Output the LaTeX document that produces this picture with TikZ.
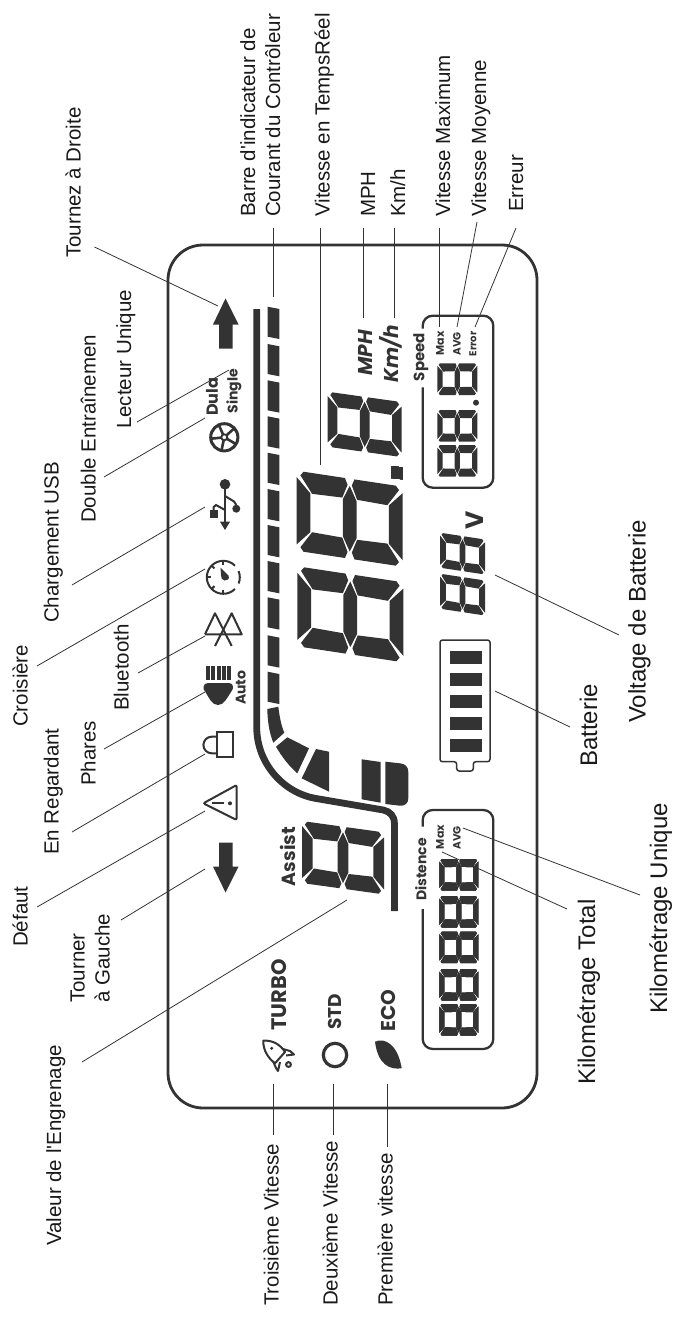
\documentclass[tikz,border=0pt]{standalone}
\usepackage{fontspec}
\usepackage{xcolor}
\usepackage{tikz}
\newfontfamily\lblfont{Liberation Sans}
\newfontfamily\lcdfont{Poppins}
\definecolor{lcdgray}{HTML}{333333}

% one seven-segment digit: x, y, half width, height, skew
\newcommand{\lcddigit}[5]{%
    \begin{scope}[shift={(#1,#2)},x={(#3pt,-#5pt)},y={(0pt,-#4pt)}]
        \foreach \ua/\sa in {0/1,2/-1} {
            \foreach \vb/\sb in {0/1,1/-1}
                \fill[lcd] ({\ua+\sa*.07},{\vb+\sb*.05}) -- ({\ua+\sa*.13},\vb) -- ({\ua+\sa*.91},\vb)
                    -- ({\ua+\sa*.96},{\vb+\sb*.08}) -- ({\ua+\sa*.86},{\vb+\sb*.25}) -- ({\ua+\sa*.29},{\vb+\sb*.26}) -- cycle;
            \fill[lcd] (\ua,.08) -- (\ua,.92) -- ({\ua+\sa*.26},.74) -- ({\ua+\sa*.26},.26) -- cycle;
        }
        \fill[lcd] (1,.09) -- (1.13,.27) -- (1.13,.73) -- (1,.91) -- (.87,.73) -- (.87,.27) -- cycle;
    \end{scope}}

\begin{document}
\begin{tikzpicture}[x=1pt,y=-1pt]
    \tikzstyle{lcd}=[fill=lcdgray, draw=none]
    \tikzstyle{lcdline}=[draw=lcdgray, line width=2.3pt]
    \tikzstyle{icon}=[draw=lcdgray, line width=2pt]
    \tikzstyle{leader}=[draw=black!80, line width=0.8pt]
    \tikzstyle{lbl}=[font=\lblfont\fontsize{20.5}{24}\selectfont, text=black!90, rotate=90, anchor=base west, inner sep=0pt]
    \tikzstyle{lblbig}=[lbl, font=\lblfont\fontsize{24}{28}\selectfont]
    \tikzstyle{lcdtxt}=[font=\lcdfont\bfseries, text=lcdgray, rotate=90, inner sep=0pt]
    \useasboundingbox (0,0) rectangle (673,1317);

    % Housing
    \draw[draw=lcdgray, line width=2.8pt, rounded corners=35pt] (168,245) rectangle (537,1108);

    % Labels on top
    \node[lbl] (lblBarre) at (255,217) {Barre d'indicateur de};
    \node[lbl] (lblCourant) at (280,217) {Courant du Contrôleur};
    \node[lbl] (lblReel) at (329.5,217) {Vitesse en TempsRéel};
    \node[lbl] (lblMph) at (375,217) {MPH};
    \node[lbl] (lblKmh) at (405,217) {Km/h};
    \node[lbl] (lblVmax) at (450,217) {Vitesse Maximum};
    \node[lbl] (lblVmoy) at (486,217) {Vitesse Moyenne};
    \node[lbl] (lblErr) at (523,212) {Erreur};

    % Labels on the left
    \node[lbl] (lblDroite) at (80.5,258) {Tournez à Droite};
    \node[lbl] (lblUnique) at (131,429) {Lecteur Unique};
    \node[lbl] (lblDouble) at (95.5,523) {Double Entraînemen};
    \node[lbl] (lblUsb) at (58.5,623) {Chargement USB};
    \node[lbl] (lblCrois) at (27.5,727) {Croisière};
    \node[lbl] (lblBlue) at (128.5,711) {Bluetooth};
    \node[lbl] (lblPhares) at (95.5,786) {Phares};
    \node[lbl] (lblRegard) at (58.5,855) {En Regardant};
    \node[lbl] (lblDefaut) at (27.5,947) {Défaut};
    \node[lbl] (lblTourner) at (84.5,1003) {Tourner};
    \node[lbl] (lblGauche) at (109.5,1003) {à Gauche};
    \node[lbl] (lblEngr) at (61,1246) {Valeur de l'Engrenage};

    % Labels below
    \node[lbl] (lblTroi) at (278.5,1306) {Troisième Vitesse};
    \node[lbl] (lblDeux) at (337.5,1306) {Deuxième Vitesse};
    \node[lbl] (lblPrem) at (392.5,1306) {Première vitesse};

    % Labels on the right
    \node[lblbig] (lblVolt) at (645.5,723) {Voltage de Batterie};
    \node[lblbig] (lblBatt) at (597,767) {Batterie};
    \node[lblbig] (lblKmU) at (667,1014) {Kilométrage Unique};
    \node[lblbig] (lblKmT) at (595,1085) {Kilométrage Total};

    % Leaders
    \foreach \nm/\ax/\ay/\bx/\by in {Barre/273/228/273/297, Reel/320/228/320/465, Mph/363/228/363/318,
        Kmh/394/228/394/318, Vmax/439/228/439/327, Vmoy/477/222/457/327, Err/516/228/475/327,
        Droite/94.5/247/218/306, Unique/137/422/229/370, Double/104/477/205/418, Usb/72/585/205/507,
        Crois/37/666/205/569, Blue/138/673/205/636, Phares/104/749/205/692, Regard/72/832/205/754,
        Defaut/37/907/205/811, Gauche/121/920/205/869, Engr/82/1062/347/900,
        Troi/273/1084/273/1135, Deux/333/1084/333/1135, Prem/387/1084/387/1147,
        Volt/619/635/495/575, Batt/570/727/495/691, KmU/640/895/463/828, KmT/567/909/442/852}
    {
        \coordinate (a\nm) at (\ax,\ay);
        \coordinate (b\nm) at (\bx,\by);
        \draw[leader] (a\nm) -- (b\nm);
    }

    % Turn arrows
    \fill[lcd] (225.5,298.5) -- (238.5,324.5) -- (232.5,324.5) -- (232.5,348.5) -- (219,348.5) -- (219,324.5) -- (213,324.5) -- cycle;
    \fill[lcd] (225.5,892.5) -- (238.5,866.5) -- (232.5,866.5) -- (232.5,842.5) -- (219,842.5) -- (219,866.5) -- (213,866.5) -- cycle;

    % Current bar
    \foreach \t in {306.7,344,380.3,416.3,452.7,489,525,561,597.3,635.3,671.7}
        \fill[lcd] (267.7,\t) -- (279.3,\t+2.3) -- (279.3,\t+32.3) -- (267.7,\t+30) -- cycle;
    \fill[lcd] (267.3,709) -- (278.3,706.7) .. controls (279.5,716) and (281,725) .. (284.3,732.7) -- (273.3,742.7) .. controls (269,732) and (267.5,720) .. (267.3,709) -- cycle;
    \fill[lcd] (276,746.7) -- (287.3,737.3) -- (309,748.3) -- (297.3,773.3) .. controls (289,766) and (282,757) .. (276,746.7) -- cycle;
    \fill[lcd] (301.7,778.3) -- (316,749) -- (329,751.7) -- (329,791.7) -- cycle;
    \fill[lcd] (361.7,759.3) -- (380.7,762) -- (380.7,802.7) -- (361.7,799.3) -- cycle;
    \fill[lcd] (385.3,761.7) -- (400,763.3) .. controls (405,763.8) and (408.3,766.5) .. (408.3,772) -- (408.3,798) .. controls (408.3,803.5) and (405,806) .. (400,805.7) -- (385.3,804) -- cycle;

    % Long bar
    \draw[draw=lcdgray, line width=6.8pt] (256.7,309) -- (256.7,726.7) .. controls (256.7,765) and (285,793) .. (315,798.3)
        -- (383.3,810) .. controls (390,811.5) and (394.4,816) .. (394.4,823.3) -- (394.4,911);

    % Digits
    \lcddigit{296.7}{470.7}{53}{80}{8}
    \lcddigit{297.3}{566.3}{53}{80}{8}
    \lcddigit{327.7}{391.7}{37}{55}{5.2}
    \lcddigit{302}{821}{41}{62}{5.7}
    \lcddigit{440}{532.7}{22.5}{35}{3.4}
    \lcddigit{440}{573.7}{22.5}{35}{3.4}
    \foreach \t in {363.3,410,445}
        \lcddigit{437.3}{\t}{20}{31.7}{0}
    \foreach \t in {859,896,931.7,969,1004}
        \lcddigit{439.3}{\t}{19.5}{31.5}{0}
    \fill[lcd] (391,466) -- (402.7,467.5) -- (402.7,479.3) -- (391,478) -- cycle;
    \fill[lcd] (476,402.7) circle[radius=3];

    % Speed and distance boxes
    \draw[lcdline, rounded corners=10pt] (422.7,328.7) -- (422.7,315.7) -- (493.3,315.7) -- (493.3,487.7) -- (422.7,487.7) -- (422.7,387.3);
    \draw[lcdline, rounded corners=10pt] (422.7,826.7) -- (422.7,810) -- (493.3,810) -- (493.3,1049) -- (422.7,1049) -- (422.7,909);

    % Battery
    \draw[draw=lcdgray, line width=1.5pt, rounded corners=2.5pt] (440,640) -- (490,640) -- (490,761.7) -- (473.3,761.7) -- (473.3,771) -- (456.7,771) -- (456.7,761.7) -- (440,761.7) -- cycle;
    \foreach \t in {651,673,695,717,739}
        \fill[lcd] (450,\t) rectangle (482,\t+13);

    % LCD texts
    \node[lcdtxt, font=\lcdfont\bfseries\fontsize{15}{18}\selectfont] (txtSpeed) at (420.7,357) {Speed};
    \node[lcdtxt, font=\lcdfont\bfseries\fontsize{11}{13}\selectfont] (txtMax) at (440,343.3) {Max};
    \node[lcdtxt, font=\lcdfont\bfseries\fontsize{10.5}{13}\selectfont] (txtAvg) at (457,344) {AVG};
    \node[lcdtxt, font=\lcdfont\bfseries\fontsize{10}{12}\selectfont] (txtErr) at (473,344) {Error};
    \node[lcdtxt, font=\lcdfont\bfseries\itshape\fontsize{20}{24}\selectfont] (txtMph) at (365,352.7) {MPH};
    \node[lcdtxt, font=\lcdfont\bfseries\itshape\fontsize{20}{24}\selectfont] (txtKmh) at (391,354) {Km/h};
    \node[lcdtxt, font=\lcdfont\bfseries\fontsize{16}{19}\selectfont] (txtDula) at (212,396.7) {Dula};
    \node[lcdtxt, font=\lcdfont\bfseries\fontsize{14}{17}\selectfont] (txtSingle) at (234,391.3) {Single};
    \node[lcdtxt, font=\lcdfont\bfseries\fontsize{25}{30}\selectfont] (txtVolt) at (475,520) {V};
    \node[lcdtxt, font=\lcdfont\bfseries\fontsize{14}{17}\selectfont] (txtAuto) at (240.7,687.7) {Auto};
    \node[lcdtxt, font=\lcdfont\bfseries\fontsize{19}{23}\selectfont] (txtAssist) at (288,856.5) {Assist};
    \node[lcdtxt, font=\lcdfont\bfseries\fontsize{14}{17}\selectfont] (txtDist) at (420.7,869.5) {Distence};
    \node[lcdtxt, font=\lcdfont\bfseries\fontsize{11}{13}\selectfont] (txtMaxD) at (440,837) {Max};
    \node[lcdtxt, font=\lcdfont\bfseries\fontsize{10.5}{13}\selectfont] (txtAvgD) at (457,838) {AVG};
    \node[lcdtxt, font=\lcdfont\bfseries\fontsize{21}{25}\selectfont] (txtTurbo) at (279.5,995) {TURBO};
    \node[lcdtxt, font=\lcdfont\bfseries\fontsize{18.5}{22}\selectfont] (txtStd) at (335.2,1011.7) {STD};
    \node[lcdtxt, font=\lcdfont\bfseries\fontsize{20}{24}\selectfont] (txtEco) at (388.8,1010.8) {ECO};

    % Wheel
    \draw[icon, line width=3pt] (224.3,437.3) circle[radius=13.6];
    \draw[icon, line width=1.8pt] (224.3,437.3) circle[radius=3];
    \foreach \a in {30,102,174,246,318}
        \draw[icon, line width=2.6pt] (224.3,437.3) ++(\a:3) -- ++(\a:10.5);

    % USB
    \fill[lcd] (225,484.3) circle[radius=5.3];
    \fill[lcd] (236.3,508.7) circle[radius=4];
    \fill[lcd] (209.7,510) rectangle (217.7,518.3);
    \draw[icon] (225,484.3) -- (225,523);
    \draw[icon] (225,496) -- (234,501.5) -- (236.3,505);
    \draw[icon] (225,510) -- (216,505) -- (213.7,507) -- (213.7,511);
    \fill[lcd] (225,530) -- (230,521.7) -- (220,521.7) -- cycle;

    % Cruise
    \draw[icon] (223.3,577.3) ++(-45:16.5) arc[start angle=-45, end angle=-315, radius=16.5];
    \draw[icon] (223.3,577.3) ++(-22:16.5) arc[start angle=-22, end angle=22, radius=16.5];
    \foreach \a in {90,135,180,225,270}
        \draw[icon] (223.3,577.3) ++(\a:16.5) -- ++(\a:-4);
    \fill[lcd] (220.5,567.5) -- (228.5,575.5) .. controls (230,579) and (227,581) .. (224.5,580.5) .. controls (222,580) and (221,578) .. (221,575.5) -- cycle;

    % Bluetooth
    \draw[icon, line join=round] (205,634.3) -- (241.7,634.3) -- (231.7,613.3) -- (215,646);
    \draw[icon, line join=round] (205,634.3) -- (215,613.3) -- (231.7,646);

    % Headlight
    \foreach \t in {206,211.3,216.7,222,227.3}
        \fill[lcd] (\t,666) rectangle (\t+4,680);
    \fill[lcd] (208,683) -- (229,683) .. controls (234,683) and (234,689) .. (231,692) .. controls (227,698) and (224,705) .. (218,705) .. controls (212,705) and (209,698) .. (205.5,692) .. controls (202,689) and (203,683) .. (208,683) -- cycle;

    % Look ahead
    \draw[icon] (217.3,732.3) rectangle (233.3,757.3);
    \draw[icon] (217.3,736.7) -- (211.7,736.7) arc[start angle=270, end angle=90, radius=8.3] -- (217.3,753.3);

    % Fault
    \draw[icon, rounded corners=2pt] (203.3,803.3) -- (236.7,785) -- (236.7,820) -- cycle;
    \draw[icon] (211.7,802.7) -- (224.3,802.7);
    \fill[lcd] (230,803.3) circle[radius=2];

    % Rocket
    \draw[icon, line join=round] (263.3,1040.7) .. controls (272,1040) and (280,1044) .. (285,1052) -- (275,1063.3) .. controls (268,1058) and (263,1050) .. (263.3,1040.7) -- cycle;
    \draw[icon, line join=round] (283,1049) -- (290,1051) -- (294,1054.5) -- (286,1055.5);
    \draw[icon, line join=round] (273,1061) -- (276,1068) -- (278,1071) -- (280,1062);
    \draw[icon] (288.5,1064.5) circle[radius=2.4];
    \fill[lcd] (271.7,1048.3) circle[radius=1.7];

    % Circle and leaf
    \draw[icon, line width=3.2pt] (335,1055) circle[radius=11.7];
    \fill[lcd] (375,1041.7) .. controls (385,1037) and (398,1045) .. (401.7,1068.3) .. controls (390,1070) and (378,1065) .. (375,1041.7) -- cycle;
\end{tikzpicture}
\end{document}
